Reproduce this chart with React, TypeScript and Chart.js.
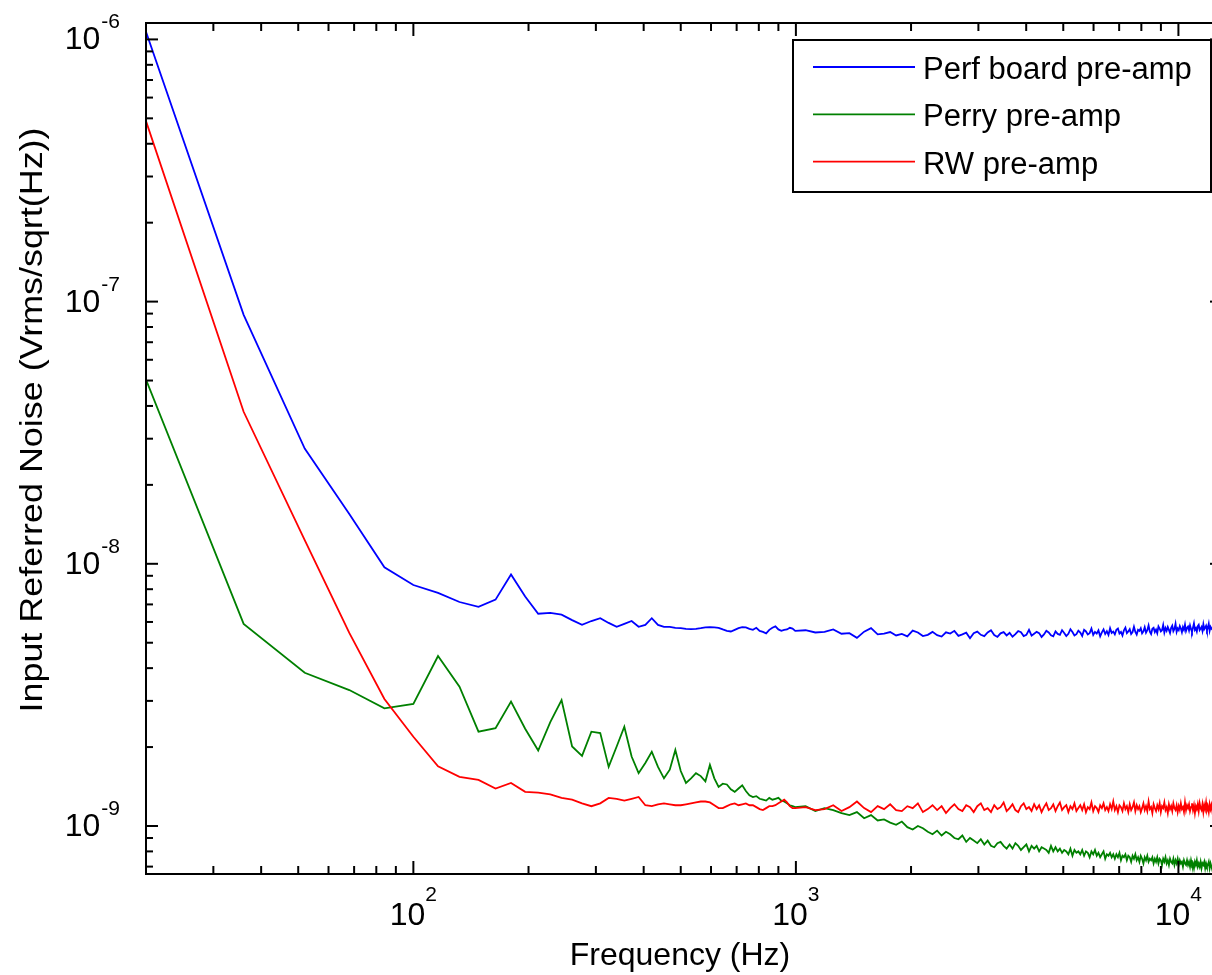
import React, { useEffect, useRef } from "react";
import { Chart, registerables } from "chart.js";

Chart.register(...registerables);

// Frequency bins (Hz)
const FREQ_LOW = [
  20, 36, 52, 68, 84, 100, 116, 132, 148, 164,
  180, 196, 212, 228, 244, 260, 276, 292, 308, 324,
  340, 356, 372, 388, 404, 420, 436, 452, 468, 484,
  500, 516, 532, 548, 564, 580, 596, 612, 628, 644,
  660, 676, 692, 708, 724, 740, 756, 772, 788, 804,
  820, 836, 852, 868, 884, 900, 916, 932, 948, 964,
  980, 996,
];
const FREQ_HIGH = [
  1060, 1124, 1188, 1252, 1316, 1380, 1444, 1508, 1572, 1636,
  1700, 1764, 1828, 1892, 1956, 2020, 2084, 2148, 2212, 2276,
  2340, 2404, 2468, 2532, 2596, 2660, 2724, 2788, 2852, 2916,
  2980, 3044, 3108, 3172, 3236, 3300, 3364, 3428, 3492, 3556,
  3620, 3684, 3748, 3812, 3876, 3940, 4004, 4068, 4132, 4196,
  4260, 4324, 4388, 4452, 4516, 4580, 4644, 4708, 4772, 4836,
  4900, 4964, 5028, 5092, 5156, 5220, 5284, 5348, 5412, 5476,
  5540, 5604, 5668, 5732, 5796, 5860, 5924, 5988, 6052, 6116,
  6180, 6244, 6308, 6372, 6436, 6500, 6564, 6628, 6692, 6756,
  6820, 6884, 6948, 7012, 7076, 7140, 7204, 7268, 7332, 7396,
  7460, 7524, 7588, 7652, 7716, 7780, 7844, 7908, 7972, 8036,
  8100, 8164, 8228, 8292, 8356, 8420, 8484, 8548, 8612, 8676,
  8740, 8804, 8868, 8932, 8996, 9060, 9124, 9188, 9252, 9316,
  9380, 9444, 9508, 9572, 9636, 9700, 9764, 9828, 9892, 9956,
  10020, 10084, 10148, 10212, 10276, 10340, 10404, 10468, 10532, 10596,
  10660, 10724, 10788, 10852, 10916, 10980, 11044, 11108, 11172, 11236,
  11300, 11364, 11428, 11492, 11556, 11620, 11684, 11748, 11812, 11876,
  11940, 12004, 12068, 12132, 12196, 12260, 12324, 12388, 12452, 12516,
  12580, 12644, 12708, 12772, 12836, 12900, 12964,
];

// Noise values in nV/sqrt(Hz)
const PERF_LOW = [
  1070, 89, 27.5, 15.5, 9.7, 8.3, 7.75, 7.15, 6.85, 7.3,
  9.1, 7.5, 6.45, 6.5, 6.4, 6.1, 5.85, 6.05, 6.2, 5.95,
  5.75, 5.9, 6.05, 5.75, 5.85, 6.2, 5.85, 5.75, 5.75, 5.7,
  5.68, 5.65, 5.63, 5.65, 5.68, 5.72, 5.73, 5.72, 5.7, 5.62,
  5.55, 5.52, 5.6, 5.68, 5.73, 5.72, 5.65, 5.6, 5.7, 5.55,
  5.5, 5.43, 5.6, 5.7, 5.77, 5.62, 5.55, 5.6, 5.62, 5.7,
  5.66, 5.55,
];
const PERF_HIGH = [
  5.58, 5.47, 5.5, 5.62, 5.41, 5.44, 5.22, 5.51, 5.68, 5.38,
  5.42, 5.49, 5.33, 5.4, 5.29, 5.56, 5.47, 5.3, 5.36, 5.5,
  5.34, 5.28, 5.48, 5.42, 5.55, 5.31, 5.38, 5.46, 5.2, 5.44,
  5.51, 5.36, 5.3, 5.47, 5.58, 5.35, 5.26, 5.43, 5.49, 5.33,
  5.45, 5.27, 5.39, 5.54, 5.48, 5.3, 5.36, 5.6, 5.32, 5.41,
  5.5, 5.44, 5.26, 5.38, 5.55, 5.47, 5.34, 5.29, 5.52, 5.4,
  5.36, 5.58, 5.45, 5.3, 5.41, 5.63, 5.49, 5.33, 5.39, 5.56,
  5.47, 5.31, 5.6, 5.52, 5.38, 5.44, 5.66, 5.35, 5.5, 5.42,
  5.57, 5.29, 5.48, 5.62, 5.4, 5.53, 5.35, 5.68, 5.45, 5.51,
  5.38, 5.6, 5.66, 5.42, 5.5, 5.33, 5.58, 5.71, 5.44, 5.52,
  5.63, 5.4, 5.49, 5.75, 5.5, 5.37, 5.6, 5.55, 5.68, 5.43,
  5.52, 5.73, 5.46, 5.58, 5.82, 5.51, 5.4, 5.65, 5.7, 5.49,
  5.61, 5.44, 5.77, 5.66, 5.52, 5.58, 5.84, 5.47, 5.69, 5.55,
  5.74, 5.6, 5.45, 5.7, 5.81, 5.53, 5.64, 5.9, 5.5, 5.67,
  5.58, 5.79, 5.66, 5.48, 5.73, 5.6, 5.86, 5.54, 5.69, 5.76,
  5.57, 5.82, 5.64, 5.5, 5.71, 5.93, 5.6, 5.68, 5.52, 5.78,
  5.85, 5.59, 5.66, 5.74, 5.55, 5.88, 5.63, 5.71, 5.8, 5.58,
  5.69, 5.9, 5.56, 5.75, 5.66, 5.62, 5.84, 5.7, 5.53, 5.79,
  5.72, 5.6, 5.87, 5.65, 5.74, 5.58, 5.81,
];

const PERRY_LOW = [
  50.4, 5.9, 3.84, 3.3, 2.81, 2.92, 4.45, 3.4, 2.29, 2.36,
  2.98, 2.35, 1.94, 2.49, 3.02, 2.01, 1.85, 2.29, 2.26, 1.68,
  2.01, 2.39, 1.84, 1.59, 1.74, 1.92, 1.68, 1.52, 1.64, 1.95,
  1.62, 1.46, 1.52, 1.59, 1.55, 1.48, 1.71, 1.52, 1.41, 1.45,
  1.44, 1.38, 1.35, 1.39, 1.43, 1.36, 1.31, 1.29, 1.3, 1.27,
  1.26, 1.25, 1.28, 1.26, 1.27, 1.28, 1.25, 1.24, 1.22, 1.2,
  1.19, 1.18,
];
const PERRY_HIGH = [
  1.19, 1.14, 1.17, 1.15, 1.12, 1.1, 1.13, 1.07, 1.1, 1.05,
  1.06, 1.03, 1.01, 1.04, 0.99, 0.97, 1.0, 0.98, 0.95, 0.93,
  0.96, 0.92, 0.95, 0.93, 0.9, 0.89, 0.92, 0.87, 0.9, 0.88,
  0.86, 0.89, 0.85, 0.88, 0.84, 0.83, 0.86, 0.87, 0.84, 0.82,
  0.85, 0.82, 0.86, 0.84, 0.81, 0.83, 0.85, 0.8, 0.84, 0.82,
  0.84, 0.8, 0.83, 0.82, 0.81, 0.79, 0.84, 0.8, 0.83, 0.8,
  0.82, 0.79, 0.81, 0.8, 0.78, 0.82, 0.77, 0.81, 0.79, 0.8,
  0.78, 0.81, 0.77, 0.8, 0.79, 0.76, 0.8, 0.78, 0.81, 0.77,
  0.79, 0.76, 0.78, 0.8, 0.75, 0.78, 0.77, 0.79, 0.76, 0.78,
  0.75, 0.78, 0.76, 0.79, 0.74, 0.77, 0.76, 0.78, 0.74, 0.77,
  0.76, 0.73, 0.77, 0.75, 0.78, 0.74, 0.76, 0.73, 0.77, 0.75,
  0.72, 0.76, 0.74, 0.77, 0.73, 0.75, 0.74, 0.76, 0.72, 0.75,
  0.73, 0.76, 0.72, 0.75, 0.74, 0.71, 0.75, 0.73, 0.76, 0.72,
  0.74, 0.71, 0.75, 0.73, 0.72, 0.75, 0.71, 0.74, 0.72, 0.75,
  0.71, 0.74, 0.72, 0.73, 0.7, 0.74, 0.72, 0.71, 0.74, 0.71,
  0.73, 0.7, 0.74, 0.71, 0.72, 0.69, 0.73, 0.71, 0.74, 0.7,
  0.72, 0.7, 0.73, 0.69, 0.72, 0.71, 0.73, 0.69, 0.72, 0.7,
  0.71, 0.73, 0.69, 0.72, 0.7, 0.68, 0.72, 0.7, 0.71, 0.69,
  0.72, 0.69, 0.71, 0.7, 0.68, 0.71, 0.69,
];

const RW_LOW = [
  488, 38, 12.3, 5.45, 3.05, 2.19, 1.69, 1.54, 1.5, 1.39,
  1.46, 1.35, 1.34, 1.32, 1.28, 1.26, 1.22, 1.19, 1.22, 1.28,
  1.27, 1.25, 1.27, 1.29, 1.2, 1.19, 1.21, 1.22, 1.21, 1.2,
  1.2, 1.21, 1.22, 1.23, 1.24, 1.24, 1.23, 1.2, 1.17, 1.17,
  1.19, 1.21, 1.22, 1.2, 1.21, 1.22, 1.2, 1.2, 1.18, 1.16,
  1.15, 1.17, 1.19, 1.19, 1.2, 1.22, 1.24, 1.26, 1.23, 1.19,
  1.17, 1.17,
];
const RW_HIGH = [
  1.18, 1.15, 1.16, 1.2, 1.14, 1.18, 1.24, 1.17, 1.13, 1.19,
  1.16, 1.21, 1.15, 1.14, 1.19, 1.17, 1.22, 1.13, 1.16, 1.2,
  1.15, 1.19, 1.12, 1.17, 1.21, 1.16, 1.14, 1.2, 1.18, 1.13,
  1.19, 1.22, 1.15, 1.17, 1.13, 1.2, 1.16, 1.18, 1.23, 1.14,
  1.17, 1.21, 1.15, 1.13, 1.19, 1.22, 1.16, 1.18, 1.14, 1.21,
  1.16, 1.2, 1.13, 1.18, 1.22, 1.15, 1.17, 1.21, 1.14, 1.19,
  1.23, 1.15, 1.18, 1.2, 1.13, 1.19, 1.16, 1.22, 1.14, 1.17,
  1.2, 1.15, 1.21, 1.13, 1.18, 1.16, 1.23, 1.14, 1.19, 1.17,
  1.13, 1.2, 1.17, 1.22, 1.15, 1.18, 1.14, 1.21, 1.16, 1.24,
  1.15, 1.19, 1.13, 1.2, 1.18, 1.14, 1.22, 1.16, 1.19, 1.13,
  1.21, 1.15, 1.18, 1.23, 1.14, 1.2, 1.16, 1.19, 1.13, 1.17,
  1.22, 1.15, 1.19, 1.14, 1.24, 1.16, 1.18, 1.12, 1.21, 1.17,
  1.14, 1.2, 1.16, 1.22, 1.13, 1.19, 1.17, 1.23, 1.15, 1.18,
  1.12, 1.21, 1.16, 1.19, 1.14, 1.22, 1.17, 1.15, 1.2, 1.13,
  1.19, 1.15, 1.22, 1.16, 1.18, 1.13, 1.23, 1.15, 1.2, 1.17,
  1.21, 1.14, 1.18, 1.22, 1.15, 1.2, 1.12, 1.19, 1.16, 1.21,
  1.14, 1.22, 1.17, 1.15, 1.21, 1.13, 1.2, 1.16, 1.23, 1.15,
  1.18, 1.13, 1.21, 1.16, 1.2, 1.14, 1.22, 1.15, 1.19, 1.17,
  1.21, 1.14, 1.2, 1.15, 1.22, 1.16, 1.19,
];

const SERIES_NAMES = ["Perf board pre-amp", "Perry pre-amp", "RW pre-amp"];
const SERIES_COLORS = ["#0000ff", "#008000", "#ff0000"];

// Axis ticks
const X_MAJOR = [100, 1000, 10000];
const X_MAJOR_EXP = ["2", "3", "4"];
const X_MINOR = [
  30, 40, 50, 60, 70, 80, 90,
  200, 300, 400, 500, 600, 700, 800, 900,
  2000, 3000, 4000, 5000, 6000, 7000, 8000, 9000,
];
const Y_MAJOR = [1e-9, 1e-8, 1e-7, 1e-6];
const Y_MAJOR_EXP = ["-9", "-8", "-7", "-6"];
const Y_MINOR = [
  7e-10, 8e-10, 9e-10,
  2e-9, 3e-9, 4e-9, 5e-9, 6e-9, 7e-9, 8e-9, 9e-9,
  2e-8, 3e-8, 4e-8, 5e-8, 6e-8, 7e-8, 8e-8, 9e-8,
  2e-7, 3e-7, 4e-7, 5e-7, 6e-7, 7e-7, 8e-7, 9e-7,
];
const X_TITLE = "Frequency (Hz)";
const Y_TITLE = "Input Referred Noise (Vrms/sqrt(Hz))";
const X_MIN = 20;
const X_MAX = 13000;
const Y_MIN = 6.56e-10;
const Y_MAX = 1.155e-6;

const FONT = "'Liberation Sans', Arial, Helvetica, sans-serif";

const matlabAxes = {
  id: "matlabAxes",
  afterDatasetsDraw(chart: any) {
    const { ctx, chartArea } = chart;
    const { left, right, top, bottom } = chartArea;
    const xs = chart.scales.x;
    const ys = chart.scales.y;
    ctx.save();
    ctx.strokeStyle = "#000";
    ctx.lineWidth = 2;
    ctx.lineCap = "butt";
    const seg = (x1: number, y1: number, x2: number, y2: number) => {
      ctx.beginPath();
      ctx.moveTo(x1, y1);
      ctx.lineTo(x2, y2);
      ctx.stroke();
    };
    X_MINOR.forEach((v) => {
      const p = xs.getPixelForValue(v);
      seg(p, bottom, p, bottom - 8);
      seg(p, top, p, top + 8);
    });
    X_MAJOR.forEach((v) => {
      const p = xs.getPixelForValue(v);
      seg(p, bottom, p, bottom - 13);
      seg(p, top, p, top + 13);
    });
    Y_MINOR.forEach((v) => {
      const p = ys.getPixelForValue(v);
      seg(left, p, left + 7, p);
      seg(right, p, right - 7, p);
    });
    Y_MAJOR.forEach((v) => {
      const p = ys.getPixelForValue(v);
      seg(left, p, left + 12, p);
      seg(right, p, right - 12, p);
    });
    ctx.strokeRect(left, top, right - left, bottom - top);

    // tick labels
    ctx.fillStyle = "#000";
    ctx.textBaseline = "alphabetic";
    const baseFont = `32px ${FONT}`;
    const supFont = `21px ${FONT}`;
    X_MAJOR.forEach((v, i) => {
      const p = xs.getPixelForValue(v);
      ctx.font = baseFont;
      const wb = ctx.measureText("10").width;
      ctx.font = supFont;
      const ws = ctx.measureText(X_MAJOR_EXP[i]).width;
      const start = p - (wb + ws) / 2;
      ctx.textAlign = "left";
      ctx.font = baseFont;
      ctx.fillText("10", start, bottom + 51);
      ctx.font = supFont;
      ctx.fillText(X_MAJOR_EXP[i], start + wb, bottom + 27);
    });
    Y_MAJOR.forEach((v, i) => {
      const p = ys.getPixelForValue(v);
      ctx.font = supFont;
      const ws = ctx.measureText(Y_MAJOR_EXP[i]).width;
      ctx.textAlign = "right";
      ctx.fillText(Y_MAJOR_EXP[i], left - 26, p - 11);
      ctx.font = baseFont;
      ctx.fillText("10", left - 27 - ws, p + 10);
    });

    // axis titles
    ctx.font = baseFont;
    ctx.textAlign = "center";
    ctx.fillText(X_TITLE, 680, bottom + 91);
    ctx.save();
    ctx.translate(42, 420);
    ctx.rotate(-Math.PI / 2);
    const tw = ctx.measureText(Y_TITLE).width;
    ctx.scale(585 / tw, 1);
    ctx.fillText(Y_TITLE, 0, 0);
    ctx.restore();

    // legend
    const bx = 793;
    const by = 40;
    const bw = 418;
    const bh = 152;
    ctx.fillStyle = "#fff";
    ctx.fillRect(bx, by, bw, bh);
    ctx.strokeStyle = "#000";
    ctx.lineWidth = 2;
    ctx.strokeRect(bx, by, bw, bh);
    ctx.font = `31px ${FONT}`;
    ctx.textAlign = "left";
    SERIES_NAMES.forEach((name, i) => {
      const ly = by + 27 + i * 47.3;
      ctx.strokeStyle = SERIES_COLORS[i];
      ctx.lineWidth = 1.8;
      seg(bx + 20, ly, bx + 122, ly);
      ctx.fillStyle = "#000";
      ctx.fillText(name, bx + 130, ly + 12);
    });
    ctx.restore();
  },
};

export default function App() {
  const ref = useRef<HTMLCanvasElement>(null);
  useEffect(() => {
    if (!ref.current) return;
    const freqs = [...FREQ_LOW, ...FREQ_HIGH];
    const pts = (lo: number[], hi: number[]) =>
      [...lo, ...hi].map((v, i) => ({ x: freqs[i], y: v * 1e-9 }));
    const values = [
      pts(PERF_LOW, PERF_HIGH),
      pts(PERRY_LOW, PERRY_HIGH),
      pts(RW_LOW, RW_HIGH),
    ];
    const chart = new Chart(ref.current, {
      type: "line",
      data: {
        datasets: values.map((d, i) => ({
          label: SERIES_NAMES[i],
          data: d,
          borderColor: SERIES_COLORS[i],
          backgroundColor: SERIES_COLORS[i],
          borderWidth: 1.8,
          pointRadius: 0,
          tension: 0,
          fill: false,
          order: 3 - i,
        })),
      },
      options: {
        responsive: false,
        animation: false,
        events: [],
        layout: { padding: { left: 146, top: 23, right: 18, bottom: 101 } },
        scales: {
          x: { type: "logarithmic", min: X_MIN, max: X_MAX, display: false },
          y: { type: "logarithmic", min: Y_MIN, max: Y_MAX, display: false },
        },
        plugins: {
          legend: { display: false },
          tooltip: { enabled: false },
        },
      },
      plugins: [matlabAxes],
    } as any);
    return () => chart.destroy();
  }, []);
  return (
    <div
      style={{
        position: "fixed",
        left: 0,
        top: 0,
        width: 1212,
        height: 975,
        overflow: "hidden",
        background: "#fff",
      }}
    >
      <canvas
        ref={ref}
        width={1240}
        height={975}
        style={{ display: "block", width: 1240, height: 975 }}
      />
    </div>
  );
}
